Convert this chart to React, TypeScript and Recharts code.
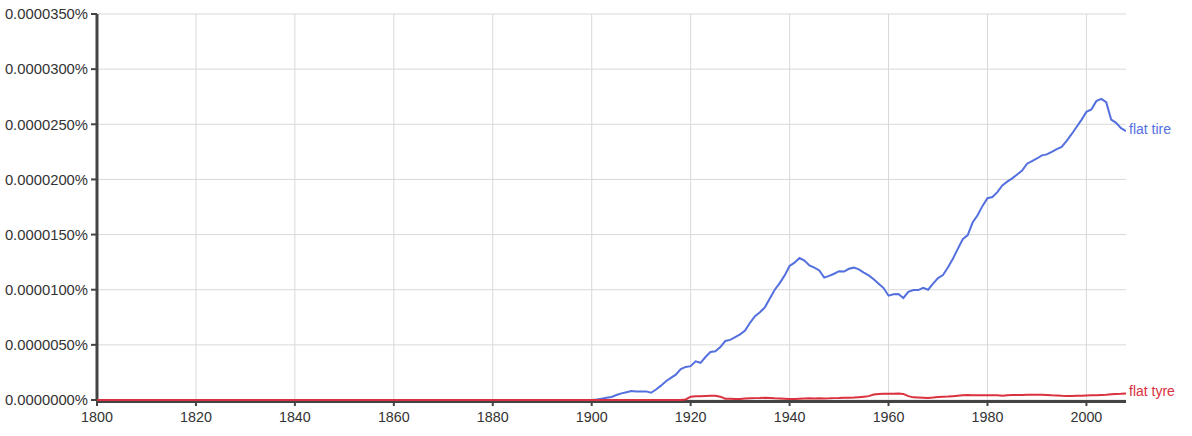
import React from 'react';
import { LineChart, Line, XAxis, YAxis, CartesianGrid } from 'recharts';

// values in millionths of a percent (1 = 0.0000010%)
const tireYears = [1800, 1900, 1901, 1902, 1903, 1904, 1905, 1906, 1907, 1908, 1909, 1910, 1911, 1912, 1913, 1914, 1915, 1916, 1917, 1918, 1919, 1920, 1921, 1922, 1923, 1924, 1925, 1926, 1927, 1928, 1929, 1930, 1931, 1932, 1933, 1934, 1935, 1936, 1937, 1938, 1939, 1940, 1941, 1942, 1943, 1944, 1945, 1946, 1947, 1948, 1949, 1950, 1951, 1952, 1953, 1954, 1955, 1956, 1957, 1958, 1959, 1960, 1961, 1962, 1963, 1964, 1965, 1966, 1967, 1968, 1969, 1970, 1971, 1972, 1973, 1974, 1975, 1976, 1977, 1978, 1979, 1980, 1981, 1982, 1983, 1984, 1985, 1986, 1987, 1988, 1989, 1990, 1991, 1992, 1993, 1994, 1995, 1996, 1997, 1998, 1999, 2000, 2001, 2002, 2003, 2004, 2005, 2006, 2007, 2008];
const tireValues = [0, 0, 0.05, 0.12, 0.2, 0.28, 0.45, 0.6, 0.7, 0.82, 0.78, 0.78, 0.78, 0.66, 0.95, 1.3, 1.7, 2.0, 2.3, 2.8, 3.0, 3.07, 3.5, 3.37, 3.9, 4.35, 4.42, 4.8, 5.35, 5.45, 5.7, 5.95, 6.3, 7.0, 7.6, 7.95, 8.4, 9.2, 10.0, 10.6, 11.3, 12.15, 12.45, 12.87, 12.65, 12.2, 12.0, 11.75, 11.1, 11.25, 11.45, 11.68, 11.65, 11.9, 12.0, 11.85, 11.55, 11.3, 10.95, 10.55, 10.15, 9.46, 9.58, 9.61, 9.25, 9.8, 9.97, 9.97, 10.18, 10.0, 10.55, 11.06, 11.33, 12.02, 12.8, 13.7, 14.58, 14.95, 16.09, 16.75, 17.6, 18.3, 18.4, 18.85, 19.45, 19.8, 20.1, 20.45, 20.8, 21.43, 21.66, 21.9, 22.18, 22.27, 22.5, 22.75, 22.95, 23.5, 24.1, 24.75, 25.4, 26.13, 26.35, 27.1, 27.3, 27.0, 25.43, 25.13, 24.65, 24.37];

const tyreYears = [1800, 1918, 1919, 1920, 1921, 1922, 1923, 1924, 1925, 1926, 1927, 1928, 1929, 1930, 1931, 1932, 1933, 1934, 1935, 1936, 1937, 1938, 1939, 1940, 1941, 1942, 1943, 1944, 1945, 1946, 1947, 1948, 1949, 1950, 1951, 1952, 1953, 1954, 1955, 1956, 1957, 1958, 1959, 1960, 1961, 1962, 1963, 1964, 1965, 1966, 1967, 1968, 1969, 1970, 1971, 1972, 1973, 1974, 1975, 1976, 1977, 1978, 1979, 1980, 1981, 1982, 1983, 1984, 1985, 1986, 1987, 1988, 1989, 1990, 1991, 1992, 1993, 1994, 1995, 1996, 1997, 1998, 1999, 2000, 2001, 2002, 2003, 2004, 2005, 2006, 2007, 2008];
const tyreValues = [0, 0, 0.05, 0.3, 0.33, 0.33, 0.36, 0.38, 0.38, 0.3, 0.12, 0.12, 0.1, 0.1, 0.13, 0.15, 0.17, 0.18, 0.2, 0.18, 0.15, 0.13, 0.12, 0.1, 0.1, 0.12, 0.13, 0.15, 0.14, 0.15, 0.14, 0.15, 0.17, 0.18, 0.2, 0.2, 0.22, 0.26, 0.3, 0.35, 0.5, 0.55, 0.57, 0.57, 0.57, 0.58, 0.55, 0.35, 0.24, 0.22, 0.2, 0.18, 0.22, 0.27, 0.3, 0.32, 0.35, 0.38, 0.42, 0.45, 0.42, 0.44, 0.42, 0.42, 0.42, 0.42, 0.38, 0.42, 0.45, 0.45, 0.45, 0.47, 0.48, 0.48, 0.47, 0.45, 0.42, 0.4, 0.38, 0.37, 0.37, 0.38, 0.38, 0.4, 0.42, 0.42, 0.45, 0.47, 0.52, 0.55, 0.57, 0.6];

const xTicks = [1800, 1820, 1840, 1860, 1880, 1900, 1920, 1940, 1960, 1980, 2000];
const yTicks = [0, 5, 10, 15, 20, 25, 30, 35];

const tireName = 'flat tire';
const tyreName = 'flat tyre';
const tireColor = '#5470de';
const tyreColor = '#d9313e';

const tireData = tireYears.map((year, i) => ({ year, value: tireValues[i] }));
const tyreData = tyreYears.map((year, i) => ({ year, value: tyreValues[i] }));

const fontFamily = '"Liberation Sans", Arial, Helvetica, sans-serif';

const endLabel = (name: string, color: string, lastIndex: number) => (props: any) => {
  const { x, y, index } = props;
  if (index !== lastIndex) return <g key={`l-${index}`} />;
  return (
    <text key={`l-${index}`} x={x + 3} y={y} dy={3} fill={color} fontSize={14} fontFamily={fontFamily}>
      {name}
    </text>
  );
};

export default function App() {
  const lineExtra: any = { zIndex: 600 };
  return (
    <div style={{ position: 'absolute', left: 0, top: 0, width: 1192, height: 436, background: '#fff' }}>
      <LineChart width={1192} height={436} margin={{ top: 14, right: 66, bottom: 11, left: 0 }}>
        <CartesianGrid stroke="#d9d9d9" strokeWidth={1} horizontalValues={yTicks} verticalValues={xTicks} />
        <XAxis
          dataKey="year"
          type="number"
          domain={[1800, 2008]}
          ticks={xTicks}
          allowDataOverflow
          height={25}
          tickSize={6}
          tickMargin={6}
          axisLine={{ stroke: '#444', strokeWidth: 3, transform: 'translate(0,1.5)' }}
          tickLine={{ stroke: '#444', strokeWidth: 2 }}
          tick={{ fill: '#333', fontSize: 14.3, fontFamily }}
        />
        <YAxis
          type="number"
          domain={[0, 35]}
          ticks={yTicks}
          width={97}
          tickSize={6}
          tickMargin={3}
          axisLine={{ stroke: '#444', strokeWidth: 3 }}
          tickLine={{ stroke: '#444', strokeWidth: 2 }}
          tick={{ fill: '#333', fontSize: 14.8, fontFamily }}
          tickFormatter={(v: number) => (v * 1e-6).toFixed(7) + '%'}
        />
        <Line
          {...lineExtra}
          data={tireData}
          dataKey="value"
          name={tireName}
          type="linear"
          stroke={tireColor}
          strokeWidth={2}
          dot={false}
          isAnimationActive={false}
          label={endLabel(tireName, tireColor, tireData.length - 1)}
        />
        <Line
          {...lineExtra}
          data={tyreData}
          dataKey="value"
          name={tyreName}
          type="linear"
          stroke={tyreColor}
          strokeWidth={2}
          dot={false}
          isAnimationActive={false}
          label={endLabel(tyreName, tyreColor, tyreData.length - 1)}
        />
      </LineChart>
    </div>
  );
}
